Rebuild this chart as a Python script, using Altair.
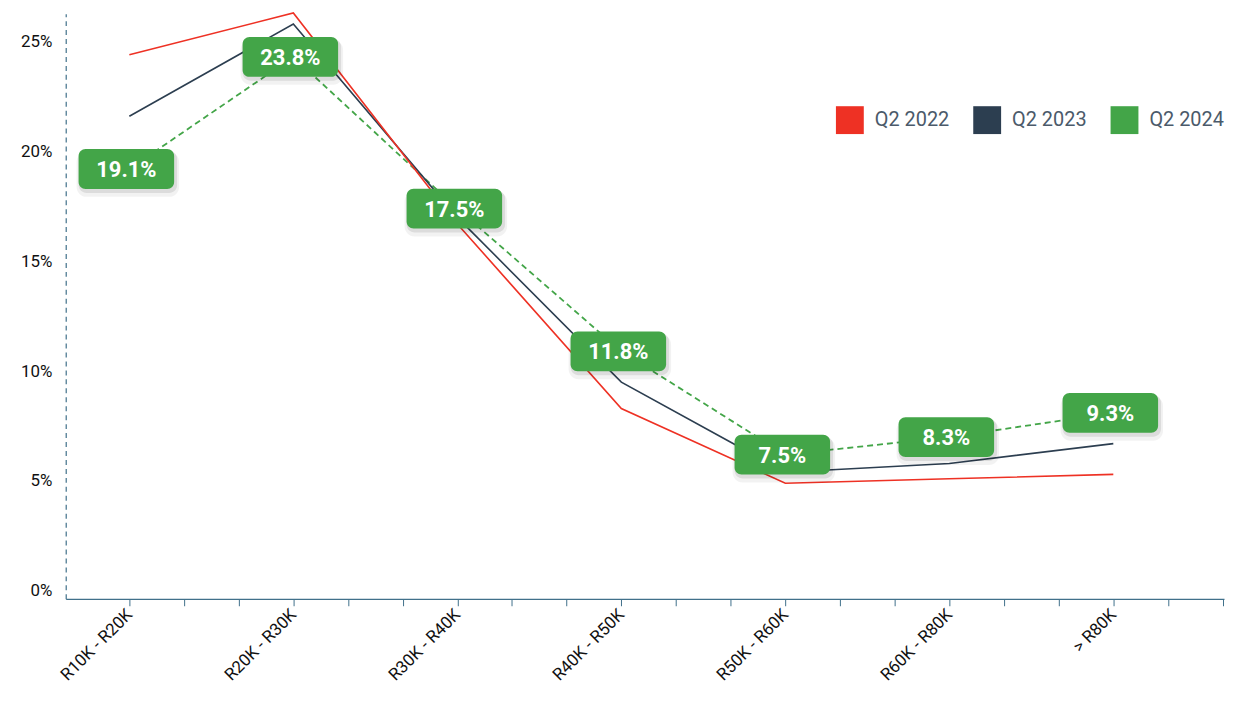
import json
import altair as alt
import pandas as pd

# ---------------- data ----------------
categories = ["R10K - R20K", "R20K - R30K", "R30K - R40K", "R40K - R50K",
              "R50K - R60K", "R60K - R80K", "> R80K"]
series = ["Q2 2022", "Q2 2023", "Q2 2024"]
q2_2022 = [24.4, 26.3, 16.7, 8.3, 4.9, 5.1, 5.3]
q2_2023 = [21.6, 25.8, 17.0, 9.5, 5.4, 5.8, 6.7]
q2_2024 = [19.2, 24.3, 17.4, 10.9, 6.2, 7.0, 8.1]
q2_2024_labels = [19.1, 23.8, 17.5, 11.8, 7.5, 8.3, 9.3]
colors = ["#EE3124", "#2C3E50", "#43A548"]
y_ticks = [0, 5, 10, 15, 20, 25]

rows = []
for s, vals in zip(series, [q2_2022, q2_2023, q2_2024]):
    for i, (c, v) in enumerate(zip(categories, vals)):
        rows.append({"idx": i, "category": c, "series": s, "value": v})
df = pd.DataFrame(rows)

gdf = pd.DataFrame({"idx": list(range(len(categories))),
                    "category": categories,
                    "value": q2_2024,
                    "label": q2_2024_labels})

FONT = "Roboto"
AXC = "#40708A"

x_ticks = [k / 3 for k in range(0, 21)]
label_expr = ("abs(datum.value - round(datum.value)) < 0.01 ? "
              + json.dumps(categories) + "[round(datum.value)] : ''")

x_enc = alt.X("idx:Q",
              scale=alt.Scale(domain=[-0.388, 6.675], nice=False, zero=False),
              axis=alt.Axis(values=x_ticks, labelExpr=label_expr, labelAngle=-45,
                            labelAlign="right", labelBaseline="middle",
                            labelPadding=6, tickSize=7, tickColor=AXC,
                            domainColor=AXC, domainWidth=1.2, labelOverlap=False,
                            labelFlush=False, labelFont=FONT, labelFontSize=17,
                            labelColor="#111111", title=None, grid=False))
y_enc = alt.Y("value:Q",
              scale=alt.Scale(domain=[-0.36, 26.27], nice=False, zero=False),
              axis=alt.Axis(values=y_ticks, labelExpr="datum.value + '%'",
                            ticks=False, domainDash=[5, 4], domainColor=AXC,
                            domainWidth=1.2, labelPadding=14, labelFont=FONT,
                            labelFontSize=17, labelColor="#111111", title=None,
                            grid=False))

base = alt.Chart(df)

line24 = base.transform_filter(alt.datum.series == series[2]).mark_line(
    strokeWidth=1.8, strokeDash=[6, 4], color=colors[2]).encode(x=x_enc, y=y_enc)
line23 = base.transform_filter(alt.datum.series == series[1]).mark_line(
    strokeWidth=1.6, color=colors[1]).encode(x=x_enc, y=y_enc)
line22 = base.transform_filter(alt.datum.series == series[0]).mark_line(
    strokeWidth=1.6, color=colors[0]).encode(x=x_enc, y=y_enc)

legend_pts = base.mark_point(shape="square", filled=True, opacity=0, size=10).encode(
    x=x_enc, y=y_enc,
    fill=alt.Fill("series:N", scale=alt.Scale(domain=series, range=colors),
                  legend=alt.Legend(title=None, orient="none", legendX=774,
                                    legendY=93, direction="horizontal",
                                    symbolType="square", symbolSize=784,
                                    symbolOpacity=1, symbolStrokeWidth=0,
                                    labelFont=FONT, labelFontSize=20,
                                    labelColor="#4B5A6A", labelOffset=11,
                                    columnPadding=24, padding=0, labelLimit=300)))

gbase = alt.Chart(gdf)
shadow1 = gbase.mark_rect(color="#000000", opacity=0.05, cornerRadius=10,
                          xOffset=-53, x2Offset=50, yOffset=-17, y2Offset=28).encode(
    x=x_enc, x2=alt.X2("idx:Q"), y=y_enc, y2=alt.Y2("value:Q"))
shadow2 = gbase.mark_rect(color="#000000", opacity=0.09, cornerRadius=8,
                          xOffset=-51, x2Offset=48, yOffset=-18, y2Offset=24).encode(
    x=x_enc, x2=alt.X2("idx:Q"), y=y_enc, y2=alt.Y2("value:Q"))
boxes = gbase.mark_rect(color="#43A548", cornerRadius=7,
                        xOffset=-51, x2Offset=45, yOffset=-20, y2Offset=20).encode(
    x=x_enc, x2=alt.X2("idx:Q"), y=y_enc, y2=alt.Y2("value:Q"))
texts = gbase.transform_calculate(
    txt="format(datum.label, '.1f') + '%'").mark_text(
    color="white", font=FONT, fontWeight="bold", fontSize=22, align="center",
    baseline="middle", dx=-3, dy=1).encode(x=x_enc, y=y_enc, text="txt:N")

chart = alt.layer(line24, line23, line22, legend_pts, shadow1, shadow2, boxes, texts).properties(
    width=1164, height=588,
    autosize=alt.AutoSizeParams(type="none"),
    padding={"left": 58, "top": 4, "right": 2, "bottom": 95},
).configure_view(stroke=None).configure_axis(grid=False)

chart.save("out.html", embed_options={"renderer": "svg", "actions": False})
